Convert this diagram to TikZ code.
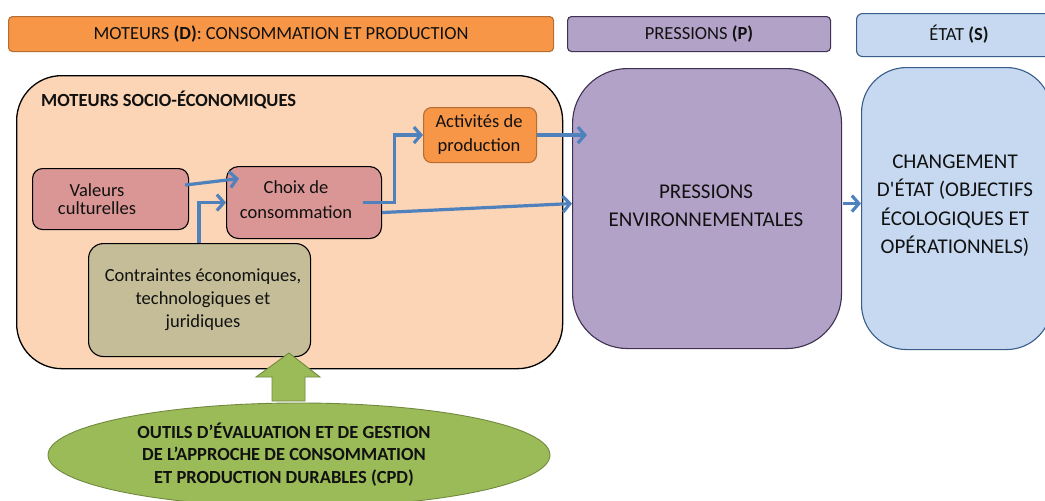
\documentclass[tikz,border=0pt]{standalone}
\usepackage{fontspec}
\setmainfont{Carlito}
\usetikzlibrary{arrows.meta,calc,shapes.geometric}

\definecolor{hdrOrange}{HTML}{F79646}
\definecolor{hdrOrangeLine}{HTML}{B66D31}
\definecolor{peach}{HTML}{FBD5B5}
\definecolor{rose}{HTML}{D99694}
\definecolor{khaki}{HTML}{C4BD97}
\definecolor{lilac}{HTML}{B2A2C7}
\definecolor{lilacLine}{HTML}{3F3151}
\definecolor{sky}{HTML}{C6D9F1}
\definecolor{skyLine}{HTML}{385D8A}
\definecolor{leaf}{HTML}{9BBB59}
\definecolor{leafLine}{HTML}{71893F}
\definecolor{flowBlue}{HTML}{4F81BD}
\definecolor{ink}{HTML}{111111}

\begin{document}
\begin{tikzpicture}[x=1pt,y=-1pt,
  box/.style={anchor=north west, inner sep=0pt, line width=1.1pt},
  txt/.style={align=center, inner sep=0pt, text=ink, font=\fontsize{18.5}{25}\selectfont},
  bigtxt/.style={align=center, inner sep=0pt, text=ink, font=\fontsize{21}{28.5}\selectfont},
  flow/.style={draw=flowBlue, line width=3.2pt, -{Straight Barb[length=7pt,width=16pt]}}
]
\useasboundingbox (0,0) rectangle (1045,501);
\clip (0,0) rectangle (1045,501);

% column headers
\node[box, fill=hdrOrange, draw=hdrOrangeLine, rounded corners=4pt,
      minimum width=545pt, minimum height=35pt] (hdrD) at (8,16) {};
\node[txt] at (hdrD.center) {MOTEURS \textbf{(D)}: CONSOMMATION ET PRODUCTION};
\node[box, fill=lilac, draw=lilacLine, rounded corners=4pt,
      minimum width=263pt, minimum height=35pt] (hdrP) at (567,16) {};
\node[txt] at (hdrP.center) {PRESSIONS \textbf{(P)}};
\node[box, fill=sky, draw=skyLine, rounded corners=6pt,
      minimum width=195pt, minimum height=43pt] (hdrS) at (856,13) {};
\node[txt] at (959,34) {ÉTAT \textbf{(S)}};

% socio-economic drivers
\node[box, fill=peach, draw=black, line width=1.3pt, rounded corners=45pt,
      minimum width=546pt, minimum height=293pt] (moteurs) at (16,75) {};
\node[txt, anchor=west, font=\fontsize{18.5}{25}\selectfont\bfseries] (titre) at (41,100) {MOTEURS SOCIO-ÉCONOMIQUES};

\node[box, fill=rose, draw=black, rounded corners=10pt,
      minimum width=156pt, minimum height=61pt] (valeurs) at (32,168) {};
\node[txt, font=\fontsize{18.5}{18}\selectfont] at (97,199) {Valeurs\\culturelles};

\node[box, fill=rose, draw=black, rounded corners=12pt,
      minimum width=155pt, minimum height=72pt] (choix) at (226,166) {};
\node[txt] at (296,200) {Choix de\\consommation};

\node[box, fill=hdrOrange, draw=hdrOrangeLine, rounded corners=8pt,
      minimum width=113pt, minimum height=55pt] (activites) at (423,107) {};
\node[txt, font=\fontsize{18.5}{24.5}\selectfont] at (479,134.5) {Activités de\\production};

\node[box, fill=khaki, draw=black, rounded corners=15pt,
      minimum width=222pt, minimum height=113pt] (contraintes) at (88,243) {};
\node[txt, font=\fontsize{18.5}{23}\selectfont] at (203,300) {Contraintes économiques,\\technologiques et\\juridiques};

% pressions and state
\node[box, fill=lilac, draw=lilacLine, rounded corners=55pt,
      minimum width=269pt, minimum height=280pt] (pressions) at (572,68) {};
\node[bigtxt] at (706,206) {PRESSIONS\\ENVIRONNEMENTALES};

\node[box, fill=sky, draw=skyLine, rounded corners=45pt,
      minimum width=190pt, minimum height=282pt] (etat) at (861,67) {};
\node[bigtxt] at (955,205.5) {CHANGEMENT\\D\textquotesingle ÉTAT (OBJECTIFS\\ÉCOLOGIQUES ET\\OPÉRATIONNELS)};

% flows between the boxes
\draw[flow] ($(valeurs.east)+(-4,-14)$) -- ($(choix.west)+(13,-24)$);
\draw[flow] ($(contraintes.north west)+(111,0)$) |- (choix.west);
\draw[flow] ($(choix.east)+(-19,0)$) -- ($(choix.east)+(12,0)$) |- (activites.west);
\draw[flow] ($(choix.east)+(0,10)$) -- ($(pressions.west)+(0,-5)$);
\draw[flow] (activites.east) -- ($(pressions.west|-activites.east)+(15,0)$);
\draw[flow] ($(pressions.east)+(1,-5)$) -- ($(etat.west)+(0,-5)$);

% sustainable consumption and production tools
\coordinate (tip) at (289,353);
\draw[fill=leaf, draw=leafLine, line width=0.9pt]
  (tip) -- ++(31,24) -- ++(-15,0) -- ++(0,24) -- ++(-33,0) -- ++(0,-24) -- ++(-16,0) -- cycle;
\node[ellipse, fill=leaf, draw=leafLine, line width=0.9pt, inner sep=0pt,
      minimum width=502pt, minimum height=104pt] (cpd) at (299,455) {};
\node[txt, font=\fontsize{18.5}{22.5}\selectfont\bfseries] at (284,454.5)
  {OUTILS D’ÉVALUATION ET DE GESTION\\DE L’APPROCHE DE CONSOMMATION\\ET PRODUCTION DURABLES (CPD)};
\end{tikzpicture}
\end{document}
